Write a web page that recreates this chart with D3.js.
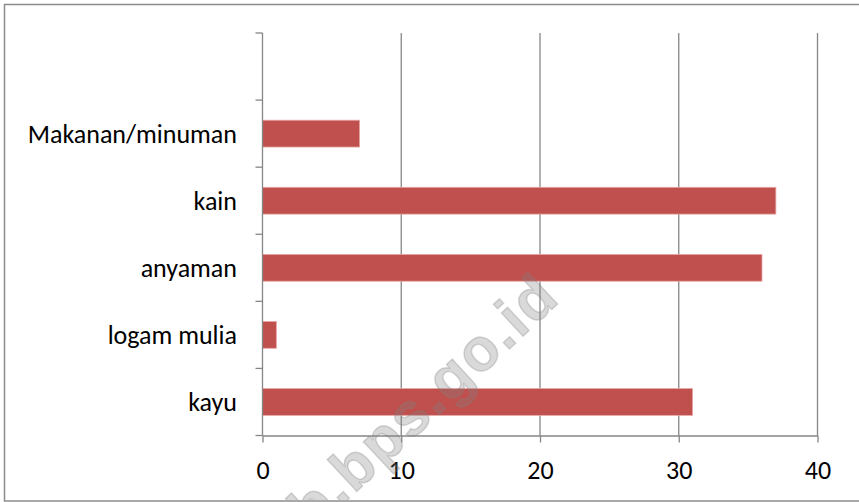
<!DOCTYPE html>
<html>
<head>
<meta charset="utf-8">
<script src="https://cdn.jsdelivr.net/npm/d3@7"></script>
<style>
  body { margin: 0; background: #fff; }
  svg { display: block; font-family: Carlito, Calibri, Lato, sans-serif; }
</style>
</head>
<body>
<script>
'use strict';

// categories bottom -> top, like Excel draws them ("" is the empty top slot)
const categories = ["kayu", "logam mulia", "anyaman", "kain", "Makanan/minuman", ""];
const values = [31, 1, 36, 37, 7, null];
const xTicks = [0, 10, 20, 30, 40];

const W = 859, H = 502;
const plot = { left: 262.5, right: 817.5, top: 33, bottom: 435.5 };
const fontSize = 26;

const svg = d3.select("body").append("svg")
    .attr("width", W)
    .attr("height", H);

// chart border
svg.append("rect")
    .attr("x", 4.5).attr("y", 4.5)
    .attr("width", W + 10).attr("height", 496.5)
    .attr("fill", "#fff")
    .attr("stroke", "#8c8c8c")
    .attr("stroke-width", 1.5);

const x = d3.scaleLinear()
    .domain([0, 40])
    .range([plot.left, plot.right]);

const y = d3.scaleBand()
    .domain(categories.slice().reverse())
    .range([plot.top, plot.bottom])
    .paddingInner(0.6)
    .paddingOuter(0.3);

// vertical gridlines
svg.append("g")
    .selectAll("line")
    .data(xTicks.slice(1))
    .enter()
    .append("line")
    .attr("x1", d => x(d)).attr("x2", d => x(d))
    .attr("y1", plot.top).attr("y2", plot.bottom)
    .attr("stroke", "#868686")
    .attr("stroke-width", 1.3);

// bars
svg.append("g")
    .selectAll("rect")
    .data(categories.map((c, i) => ({ c: c, v: values[i] })).filter(d => d.v != null))
    .enter()
    .append("rect")
    .attr("x", x(0))
    .attr("y", d => y(d.c))
    .attr("width", d => x(d.v) - x(0))
    .attr("height", y.bandwidth())
    .attr("fill", "#c0504d")
    .attr("stroke", "#e8a8a6")
    .attr("stroke-width", 0.8);

// x axis
const xAxis = svg.append("g")
    .attr("transform", "translate(0," + plot.bottom + ")")
    .call(d3.axisBottom(x).tickValues(xTicks).tickSize(7).tickPadding(18).tickSizeOuter(0));
xAxis.select(".domain").attr("stroke", "#868686").attr("stroke-width", 1.3);
xAxis.selectAll(".tick line").attr("stroke", "#868686").attr("stroke-width", 1.3);
xAxis.selectAll(".tick text")
    .attr("font-family", "Carlito, Calibri, Lato, sans-serif")
    .attr("font-size", fontSize)
    .attr("fill", "#000");

// y axis: line + ticks on slot boundaries
const yAxis = svg.append("g");
yAxis.append("line")
    .attr("x1", plot.left).attr("x2", plot.left)
    .attr("y1", plot.top).attr("y2", plot.bottom)
    .attr("stroke", "#868686").attr("stroke-width", 1.3);
yAxis.selectAll(".ytick")
    .data(d3.range(categories.length + 1))
    .enter()
    .append("line")
    .attr("class", "ytick")
    .attr("x1", plot.left - 7).attr("x2", plot.left)
    .attr("y1", i => plot.top + i * y.step())
    .attr("y2", i => plot.top + i * y.step())
    .attr("stroke", "#868686").attr("stroke-width", 1.3);
yAxis.selectAll(".ylabel")
    .data(categories.filter(c => c !== ""))
    .enter()
    .append("text")
    .attr("class", "ylabel")
    .attr("x", 237)
    .attr("y", d => y(d) + y.bandwidth() / 2)
    .attr("dy", "0.35em")
    .attr("text-anchor", "end")
    .attr("font-size", fontSize)
    .attr("fill", "#000")
    .text(d => d);

// watermark, clipped by the chart border
svg.append("clipPath").attr("id", "wm-clip")
    .append("rect").attr("x", 5).attr("y", 5).attr("width", W).attr("height", 495);
svg.append("g")
    .attr("clip-path", "url(#wm-clip)")
    .append("text")
    .attr("transform", "translate(562,300) rotate(-43)")
    .attr("text-anchor", "end")
    .attr("font-family", "'Liberation Sans', Arial, sans-serif")
    .attr("font-size", 60)
    .attr("font-weight", "bold")
    .attr("letter-spacing", 2)
    .attr("fill", "#808080")
    .attr("fill-opacity", 0.3)
    .attr("stroke", "#808080")
    .attr("stroke-opacity", 0.3)
    .attr("stroke-width", 1.5)
    .attr("paint-order", "stroke")
    .text("kab.bps.go.id");
</script>
</body>
</html>
